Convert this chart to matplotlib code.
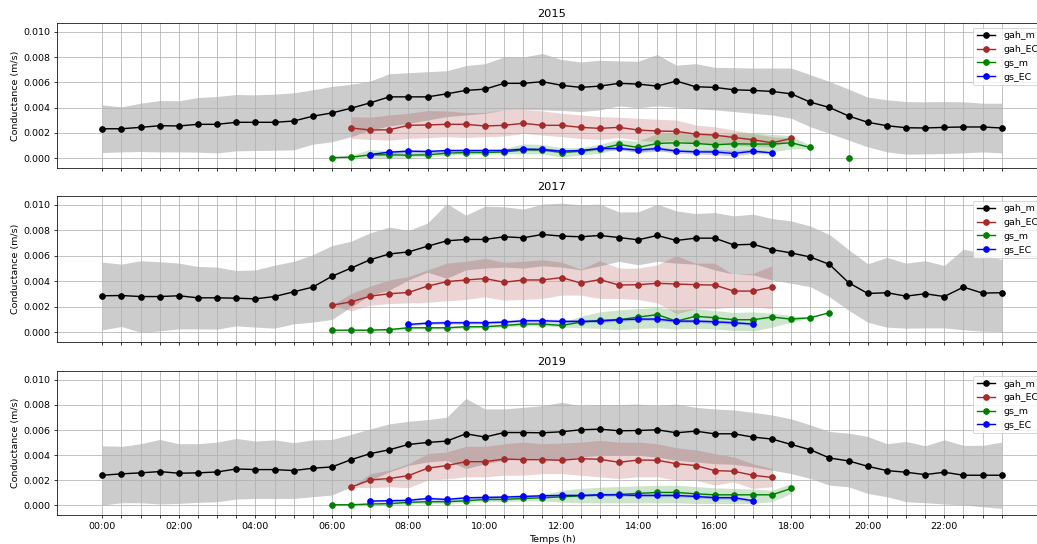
import numpy as np
import matplotlib
matplotlib.use('Agg')
import matplotlib.pyplot as plt
from matplotlib.ticker import FuncFormatter

# conductances in mm/s (converted to m/s at plot time), half-hourly steps
years = ['2015', '2017', '2019']

# gah_m : full day 00:00 -> 23:30
gah_m = {
    '2015': [2.33, 2.33, 2.44, 2.57, 2.55, 2.68, 2.68, 2.84, 2.84, 2.84, 2.94, 3.32, 3.58, 3.95, 4.38, 4.85,
             4.85, 4.85, 5.09, 5.36, 5.46, 5.92, 5.92, 6.05, 5.76, 5.60, 5.70, 5.92, 5.86, 5.70, 6.10, 5.65,
             5.60, 5.41, 5.36, 5.28, 5.09, 4.43, 4.01, 3.34, 2.84, 2.57, 2.41, 2.39, 2.44, 2.47, 2.47, 2.39],
    '2017': [2.86, 2.88, 2.80, 2.80, 2.86, 2.70, 2.70, 2.67, 2.62, 2.80, 3.17, 3.54, 4.39, 5.03, 5.69, 6.14,
             6.30, 6.75, 7.17, 7.28, 7.28, 7.49, 7.41, 7.67, 7.54, 7.49, 7.59, 7.43, 7.25, 7.59, 7.20, 7.38,
             7.38, 6.85, 6.90, 6.48, 6.22, 5.90, 5.32, 3.89, 3.04, 3.10, 2.83, 3.02, 2.80, 3.54, 3.07, 3.10],
    '2019': [2.40, 2.51, 2.59, 2.69, 2.56, 2.59, 2.66, 2.90, 2.85, 2.85, 2.77, 2.96, 3.06, 3.64, 4.12, 4.43,
             4.85, 5.01, 5.12, 5.70, 5.44, 5.80, 5.80, 5.78, 5.86, 6.02, 6.07, 5.94, 5.96, 6.02, 5.78, 5.91,
             5.70, 5.70, 5.44, 5.28, 4.85, 4.43, 3.77, 3.54, 3.11, 2.77, 2.64, 2.45, 2.64, 2.40, 2.40, 2.40],
}
gah_m_hi = {
    '2015': [4.22, 4.06, 4.35, 4.56, 4.54, 4.80, 4.88, 5.04, 5.01, 5.07, 5.17, 5.41, 5.68, 5.84, 6.10, 6.68,
             6.76, 6.84, 6.92, 7.32, 7.48, 8.01, 8.00, 8.28, 7.80, 7.61, 7.75, 7.69, 7.67, 8.20, 7.35, 7.48,
             7.19, 7.16, 7.13, 7.13, 7.13, 6.60, 6.07, 5.46, 4.83, 4.62, 4.48, 4.46, 4.48, 4.46, 4.35, 4.35],
    '2017': [5.50, 5.34, 5.61, 5.53, 5.42, 5.16, 5.11, 4.84, 4.89, 5.26, 5.56, 6.08, 6.80, 7.14, 7.80, 8.25,
             7.99, 8.57, 10.1, 9.18, 9.89, 9.84, 9.66, 10.05, 10.13, 10.0, 10.05, 9.44, 9.44, 10.05, 9.52, 9.31,
             9.39, 9.13, 9.26, 8.92, 8.73, 8.33, 7.67, 6.48, 5.37, 5.87, 5.42, 5.61, 5.24, 6.53, 6.16, 5.69],
    '2019': [4.75, 4.70, 4.91, 5.25, 4.91, 4.91, 5.04, 5.33, 5.12, 5.22, 4.99, 5.22, 5.25, 5.65, 6.09, 6.49,
             6.70, 6.83, 7.02, 8.52, 7.68, 7.68, 7.81, 7.94, 8.21, 7.94, 8.02, 8.02, 8.07, 7.94, 8.07, 7.81,
             7.68, 7.60, 7.41, 7.20, 6.89, 6.41, 5.88, 5.75, 5.49, 4.91, 5.09, 4.75, 5.22, 4.78, 4.78, 5.04],
}
gah_m_lo = {
    '2015': [0.45, 0.50, 0.53, 0.50, 0.50, 0.48, 0.42, 0.58, 0.61, 0.63, 0.66, 1.11, 1.30, 1.70, 2.23, 2.55,
             2.76, 3.02, 3.29, 3.42, 3.55, 3.82, 3.87, 3.82, 3.77, 3.69, 3.82, 4.14, 3.98, 4.14, 4.03, 3.90,
             3.82, 3.69, 3.55, 3.42, 3.16, 2.49, 1.96, 1.43, 0.90, 0.50, 0.32, 0.34, 0.37, 0.42, 0.50, 0.42],
    '2017': [0.19, 0.45, 0.00, 0.10, 0.26, 0.26, 0.24, 0.50, 0.40, 0.32, 0.66, 0.79, 1.00, 1.98, 2.91, 3.31,
             4.10, 4.71, 4.23, 4.89, 5.03, 5.11, 5.03, 5.21, 5.11, 4.89, 5.21, 5.56, 5.29, 5.56, 5.42, 5.34,
             4.89, 4.55, 4.50, 4.10, 3.84, 3.57, 2.78, 1.72, 0.79, 0.40, 0.32, 0.34, 0.34, 0.19, 0.08, 0.05],
    '2019': [0.03, 0.21, 0.21, 0.11, 0.16, 0.24, 0.29, 0.50, 0.55, 0.55, 0.55, 0.69, 0.82, 1.48, 2.01, 2.66,
             3.19, 3.46, 3.59, 2.93, 3.32, 3.59, 3.72, 3.64, 3.59, 3.85, 3.98, 3.98, 3.98, 3.85, 3.59, 3.46,
             3.32, 3.27, 3.06, 2.80, 2.53, 2.14, 1.61, 1.48, 0.95, 0.69, 0.29, 0.21, 0.11, 0.03, -0.11, -0.24],
}

# gah_EC : daytime only
gah_ec_start = {'2015': 6.5, '2017': 6.0, '2019': 6.5}
gah_ec = {
    '2015': [2.39, 2.23, 2.25, 2.60, 2.63, 2.68, 2.68, 2.55, 2.60, 2.76, 2.60, 2.60, 2.44, 2.36, 2.44, 2.23,
             2.15, 2.12, 1.91, 1.83, 1.64, 1.46, 1.22, 1.56],
    '2017': [2.12, 2.38, 2.83, 3.02, 3.12, 3.62, 3.97, 4.10, 4.21, 3.92, 4.10, 4.10, 4.29, 3.86, 4.13, 3.70,
             3.73, 3.84, 3.78, 3.73, 3.70, 3.23, 3.23, 3.54],
    '2019': [1.45, 2.03, 2.14, 2.37, 2.96, 3.17, 3.48, 3.48, 3.69, 3.64, 3.64, 3.59, 3.72, 3.67, 3.43, 3.61,
             3.59, 3.32, 3.17, 2.77, 2.72, 2.40, 2.22],
}
gah_ec_hi = {
    '2015': [3.29, 3.24, 3.42, 3.55, 3.77, 3.74, 3.61, 3.61, 3.82, 3.87, 3.74, 3.55, 3.42, 3.29, 3.24, 3.16,
             3.08, 3.02, 2.63, 2.49, 2.23, 1.96, 1.70, 1.60],
    '2017': [2.12, 3.04, 3.62, 4.10, 4.37, 4.89, 5.42, 5.56, 5.79, 5.48, 5.56, 5.69, 5.50, 4.95, 5.61, 5.03,
             5.03, 5.29, 6.01, 5.42, 5.42, 4.50, 4.63, 5.21],
    '2019': [1.45, 2.53, 2.80, 3.32, 4.12, 4.25, 4.70, 4.70, 4.91, 5.04, 4.91, 4.96, 5.04, 5.17, 5.04, 5.04,
             4.91, 4.59, 4.43, 4.12, 3.85, 3.32, 2.93],
}
gah_ec_lo = {
    '2015': [1.56, 1.48, 1.43, 1.56, 1.62, 1.70, 1.64, 1.70, 1.75, 1.96, 1.83, 1.70, 1.56, 1.48, 1.64, 1.43,
             1.30, 1.43, 1.17, 1.11, 1.03, 0.95, 0.90, 1.40],
    '2017': [2.12, 1.67, 2.12, 2.25, 2.30, 2.35, 2.46, 2.57, 2.78, 2.51, 2.57, 2.65, 2.91, 2.91, 2.65, 2.65,
             2.57, 2.30, 1.46, 1.85, 1.85, 1.98, 1.98, 1.85],
    '2019': [1.45, 1.40, 1.48, 1.40, 2.01, 2.11, 2.27, 2.27, 2.40, 2.40, 2.53, 2.53, 2.40, 2.27, 2.14, 2.27,
             2.27, 2.01, 2.01, 1.61, 1.87, 1.35, 1.48],
}

# gs_m : starts at 06:00 each year
gs_m_start = {'2015': 6.0, '2017': 6.0, '2019': 6.0}
gs_m = {
    '2015': [0.05, 0.08, 0.27, 0.27, 0.24, 0.27, 0.40, 0.45, 0.45, 0.50, 0.66, 0.66, 0.45, 0.56, 0.74, 1.09,
             0.85, 1.17, 1.22, 1.17, 1.06, 1.14, 1.12, 1.12, 1.22, 0.85, np.nan, 0.05],
    '2017': [0.16, 0.16, 0.16, 0.21, 0.35, 0.35, 0.35, 0.43, 0.43, 0.53, 0.64, 0.64, 0.53, 0.79, 0.93, 0.98,
             1.19, 1.38, 0.87, 1.25, 1.14, 0.98, 0.98, 1.19, 1.03, 1.14, 1.53],
    '2019': [0.05, 0.05, 0.11, 0.14, 0.24, 0.29, 0.29, 0.37, 0.47, 0.47, 0.55, 0.60, 0.68, 0.76, 0.82, 0.87,
             0.95, 1.03, 1.03, 0.92, 0.84, 0.84, 0.84, 0.84, 1.35],
}
gs_m_hi = {
    '2015': [0.05, 0.20, 0.65, 0.55, 0.45, 0.45, 0.55, 0.60, 0.62, 0.70, 1.10, 1.05, 0.80, 0.80, 1.05, 1.45,
             1.30, 1.90, 1.95, 1.85, 1.80, 1.90, 1.95, 1.85, 1.75, 1.00, np.nan, 0.05],
    '2017': [0.20, 0.22, 0.25, 0.30, 0.45, 0.45, 0.45, 0.55, 0.55, 0.65, 0.78, 0.80, 0.75, 1.25, 1.60, 1.75,
             1.85, 1.95, 1.75, 1.85, 1.70, 1.55, 1.60, 1.50, 1.30, 1.15, 1.53],
    '2019': [0.07, 0.10, 0.20, 0.25, 0.35, 0.42, 0.42, 0.52, 0.62, 0.65, 0.75, 0.85, 1.20, 1.35, 1.45, 1.50,
             1.55, 1.60, 1.60, 1.50, 1.40, 1.35, 1.30, 1.20, 1.75],
}
gs_m_lo = {
    '2015': [0.05, 0.00, -0.05, 0.00, 0.05, 0.08, 0.20, 0.25, 0.28, 0.30, 0.30, 0.30, 0.05, 0.20, 0.35, 0.70,
             0.40, 0.50, 0.55, 0.50, 0.40, 0.45, 0.40, 0.45, 0.70, 0.70, np.nan, 0.05],
    '2017': [0.12, 0.10, 0.08, 0.12, 0.25, 0.25, 0.25, 0.32, 0.32, 0.40, 0.50, 0.50, 0.40, 0.35, 0.30, 0.20,
             0.30, 0.35, 0.25, 0.30, 0.25, 0.15, 0.10, 0.40, 0.80, 1.10, 1.53],
    '2019': [0.03, 0.00, 0.02, 0.04, 0.12, 0.16, 0.16, 0.22, 0.32, 0.30, 0.35, 0.35, 0.25, 0.20, 0.20, 0.20,
             0.20, 0.20, 0.20, 0.15, 0.15, 0.15, 0.15, 0.30, 0.95],
}

# gs_EC
gs_ec_start = {'2015': 7.0, '2017': 8.0, '2019': 7.0}
gs_ec = {
    '2015': [0.29, 0.48, 0.56, 0.53, 0.61, 0.61, 0.61, 0.61, 0.72, 0.69, 0.56, 0.61, 0.77, 0.77, 0.64, 0.77,
             0.56, 0.50, 0.50, 0.37, 0.56, 0.42],
    '2017': [0.61, 0.71, 0.74, 0.74, 0.74, 0.79, 0.90, 0.90, 0.85, 0.85, 0.87, 0.98, 1.03, 1.03, 0.87, 0.87,
             0.82, 0.74, 0.64],
    '2019': [0.34, 0.37, 0.40, 0.55, 0.47, 0.60, 0.63, 0.66, 0.71, 0.76, 0.79, 0.79, 0.84, 0.84, 0.79, 0.79,
             0.79, 0.71, 0.61, 0.61, 0.37],
}
gs_ec_hi = {
    '2015': [0.40, 0.60, 0.68, 0.65, 0.73, 0.73, 0.73, 0.74, 0.85, 0.82, 0.68, 0.73, 0.90, 0.90, 0.78, 0.92,
             0.72, 0.68, 0.70, 0.62, 0.72, 0.52],
    '2017': [0.72, 0.84, 0.88, 0.90, 0.90, 0.94, 1.04, 1.05, 1.00, 1.00, 1.02, 1.12, 1.17, 1.17, 1.02, 1.02,
             0.97, 0.90, 0.76],
    '2019': [0.44, 0.48, 0.52, 0.67, 0.60, 0.72, 0.76, 0.79, 0.84, 0.89, 0.92, 0.92, 0.97, 0.97, 0.92, 0.92,
             0.92, 0.85, 0.75, 0.74, 0.48],
}
gs_ec_lo = {
    '2015': [0.18, 0.36, 0.44, 0.42, 0.49, 0.50, 0.50, 0.50, 0.60, 0.57, 0.45, 0.50, 0.64, 0.64, 0.50, 0.62,
             0.40, 0.32, 0.30, 0.18, 0.38, 0.32],
    '2017': [0.52, 0.61, 0.64, 0.64, 0.64, 0.68, 0.79, 0.79, 0.75, 0.75, 0.77, 0.87, 0.92, 0.92, 0.76, 0.76,
             0.71, 0.64, 0.55],
    '2019': [0.25, 0.28, 0.30, 0.45, 0.38, 0.50, 0.53, 0.56, 0.61, 0.66, 0.69, 0.69, 0.74, 0.74, 0.69, 0.69,
             0.69, 0.61, 0.50, 0.50, 0.28],
}


def hours(start, n):
    return start + 0.5 * np.arange(n)


def plot_serie(ax, x, y, lo, hi, color, fill_alpha, label):
    y = np.array(y) * 1e-3
    lo = np.array(lo) * 1e-3
    hi = np.array(hi) * 1e-3
    ax.fill_between(x, lo, hi, color=color, alpha=fill_alpha, linewidth=0)
    ax.plot(x, y, 'o-', color=color, label=label)


def hour_fmt(v, pos):
    # label every 2 hours, keep the half-hour ticks unlabelled
    if abs(v - round(v)) < 1e-6 and int(round(v)) % 2 == 0:
        return '%02d:00' % int(round(v))
    return ''


fig, axes = plt.subplots(3, 1, figsize=(15.25, 8), dpi=68, sharex=True, sharey=True)
# axes extend a bit past the right border (cropped screenshot)
pos = [(0.958, 0.691), (0.640, 0.371), (0.318, 0.053)]
for ax, (top, bottom) in zip(axes, pos):
    ax.set_position([0.0553, bottom, 0.954, top - bottom])

for ax, yr in zip(axes, years):
    x_full = hours(0.0, len(gah_m[yr]))
    plot_serie(ax, x_full, gah_m[yr], gah_m_lo[yr], gah_m_hi[yr], 'black', 0.2, 'gah_m')
    x = hours(gah_ec_start[yr], len(gah_ec[yr]))
    plot_serie(ax, x, gah_ec[yr], gah_ec_lo[yr], gah_ec_hi[yr], 'brown', 0.2, 'gah_EC')
    x = hours(gs_m_start[yr], len(gs_m[yr]))
    plot_serie(ax, x, gs_m[yr], gs_m_lo[yr], gs_m_hi[yr], 'green', 0.2, 'gs_m')
    x = hours(gs_ec_start[yr], len(gs_ec[yr]))
    plot_serie(ax, x, gs_ec[yr], gs_ec_lo[yr], gs_ec_hi[yr], 'blue', 0.2, 'gs_EC')

    ax.set_title(yr)
    ax.set_ylabel('Conductance (m/s)')
    ax.grid(True)
    ax.legend(loc='upper right')

axes[0].set_ylim(-0.00078, 0.0107)
axes[0].set_yticks(np.arange(0, 0.0101, 0.002))
axes[0].yaxis.set_major_formatter(FuncFormatter(lambda v, p: '%.3f' % v))
axes[0].set_xlim(-1.175, 24.675)
axes[0].set_xticks(hours(0.0, len(gah_m['2015'])))
axes[0].xaxis.set_major_formatter(FuncFormatter(hour_fmt))
axes[2].set_xlabel('Temps (h)')

fig.savefig('out.png', dpi=68)
